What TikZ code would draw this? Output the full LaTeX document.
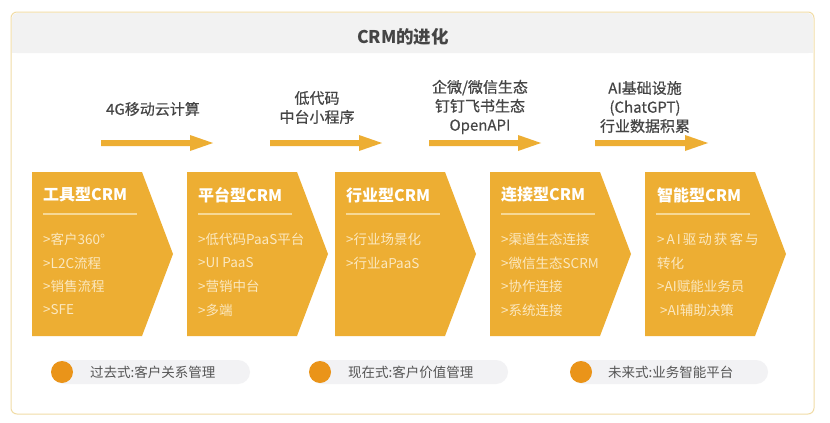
\documentclass[tikz,border=0pt]{standalone}
\usepackage{fontspec}
\setmainfont{Noto Sans CJK SC}
\newfontfamily\medfont[FakeBold=0.5]{Noto Sans CJK SC}
\definecolor{framec}{HTML}{F1DCA6}
\definecolor{headc}{HTML}{F2F2F2}
\definecolor{titlec}{HTML}{454545}
\definecolor{chevc}{HTML}{EDAE33}
\definecolor{itemc}{HTML}{FBE8C0}
\definecolor{linec}{HTML}{F6D896}
\definecolor{pillc}{HTML}{F2F2F4}
\definecolor{dotc}{HTML}{EA9419}
\definecolor{legc}{HTML}{555555}
\tikzset{
  chtitle/.style={anchor=west, inner sep=0pt, text=white, font=\bfseries\fontsize{16}{19}\selectfont},
  chitem/.style={anchor=west, inner sep=0pt, text=itemc, font=\fontsize{13.5}{16}\selectfont},
  arrlabel/.style={align=center, inner sep=0pt, text=titlec, font=\medfont\fontsize{15}{19}\selectfont},
  legtext/.style={anchor=west, inner sep=0pt, text=legc, font=\fontsize{13.5}{16}\selectfont},
}
\newcommand\chevshape[1]{\fill[chevc] (#1,172) -- (#1+110,172) -- (#1+141,254) -- (#1+110,336) -- (#1,336) -- cycle;
  \draw[linec, line width=2pt] (#1+11,214) -- (#1+105,214);}
\newcommand\bigarrow[2]{\fill[chevc] (#1,140) -- (#2-23,140) -- (#2-23,135) -- (#2,143) -- (#2-23,151) -- (#2-23,146) -- (#1,146) -- cycle;}
\begin{document}
\begin{tikzpicture}[x=1pt,y=-1pt]
\useasboundingbox (0,0) rectangle (830,423);
\fill[white] (0,0) rectangle (830,423);
% frame and header
\fill[headc, rounded corners=5pt] (12,13) rectangle (813,53);
\fill[headc] (12,30) rectangle (813,53);
\draw[framec, line width=1pt, rounded corners=6pt] (11,12) rectangle (814,414);
\node[font=\bfseries\fontsize{17.5}{20}\selectfont, text=titlec, inner sep=0pt] (title) at (403,37) {CRM的进化};
% top arrows and labels
\bigarrow{101}{213}
\bigarrow{270}{382}
\bigarrow{429}{541}
\bigarrow{595}{708}
\node[arrlabel] (lab1) at (153,109) {4G移动云计算};
\node[arrlabel] (lab2) at (317,107.5) {低代码\\中台小程序};
\node[arrlabel] (lab3) at (480,107) {企微/微信生态\\钉钉飞书生态\\OpenAPI};
\node[arrlabel] (lab4) at (645,107) {AI基础设施\\(ChatGPT)\\行业数据积累};
% chevrons
\chevshape{32}
\chevshape{187}
\chevshape{335}
\chevshape{490}
\chevshape{645}
\node[chtitle] (t1) at (43,195) {工具型CRM};
\node[chitem] (i11) at (43,239) {>客户360°};
\node[chitem] (i12) at (43,263) {>L2C流程};
\node[chitem] (i13) at (43,286) {>销售流程};
\node[chitem] (i14) at (43,310) {>SFE};
\node[chtitle] (t2) at (198,195) {平台型CRM};
\node[chitem] (i21) at (198,239) {>低代码PaaS平台};
\node[chitem] (i22) at (198,263) {>UI PaaS};
\node[chitem] (i23) at (198,286) {>营销中台};
\node[chitem] (i24) at (198,310) {>多端};
\node[chtitle] (t3) at (346,195) {行业型CRM};
\node[chitem] (i31) at (346,239) {>行业场景化};
\node[chitem] (i32) at (346,263) {>行业aPaaS};
\node[chtitle] (t4) at (501,195) {连接型CRM};
\node[chitem] (i41) at (501,239) {>渠道生态连接};
\node[chitem] (i42) at (501,263) {>微信生态SCRM};
\node[chitem] (i43) at (501,286) {>协作连接};
\node[chitem] (i44) at (501,310) {>系统连接};
\node[chtitle] (t5) at (657,195) {智能型CRM};
\node[chitem] (i51) at (657,239) {\addfontfeatures{LetterSpace=15}>AI驱动获客与};
\node[chitem] (i52) at (657,263) {转化};
\node[chitem] (i53) at (657,286) {>AI赋能业务员};
\node[chitem] (i54) at (660,310) {>AI辅助决策};
% legend
\fill[pillc, rounded corners=12pt] (52,360) rectangle (250,384);
\fill[dotc] (62,372) circle (11);
\node[legtext] (leg1) at (90,372) {过去式:客户关系管理};
\fill[pillc, rounded corners=12pt] (310,360) rectangle (508,384);
\fill[dotc] (320,372) circle (11);
\node[legtext] (leg2) at (348,372) {现在式:客户价值管理};
\fill[pillc, rounded corners=12pt] (571,360) rectangle (768,384);
\fill[dotc] (581,372) circle (11);
\node[legtext] (leg3) at (608,372) {未来式:业务智能平台};
\end{tikzpicture}
\end{document}
